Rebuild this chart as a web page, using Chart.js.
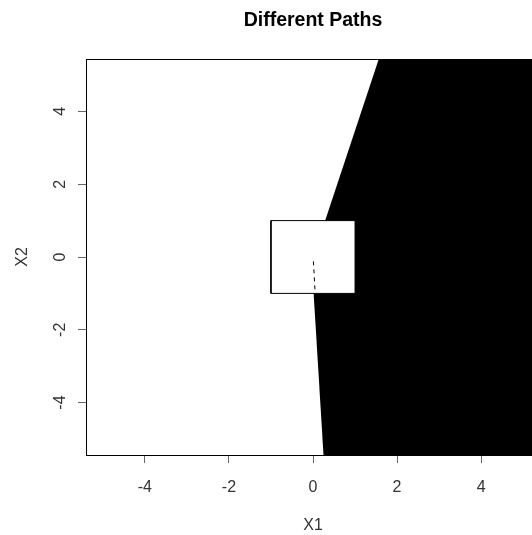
<!DOCTYPE html>
<html>
<head>
<meta charset="utf-8">
<script src="https://cdn.jsdelivr.net/npm/chart.js@4"></script>
<style>
html,body{margin:0;padding:0;overflow:hidden;background:#fff;width:532px;height:535px}
canvas{display:block}
</style>
</head>
<body>
<canvas id="c" width="560" height="535"></canvas>
<script>
// ---- data ----
const chartTitle = 'Different Paths';
const xAxisTitle = 'X1';
const yAxisTitle = 'X2';
const xTicks = [-4, -2, 0, 2, 4];
const yTicks = [-4, -2, 0, 2, 4];
const xLimits = [-5.4, 5.4];
const yLimits = [-5.44, 5.44];
// black region (right of the boundary paths)
const regionX = [1.565, 0.29, 0.015, 0.25, 5.4, 5.4, 1.565];
const regionY = [5.44, 1, -1, -5.44, -5.44, 5.44, 5.44];
// white square
const squareX = [-1, 1, 1, -1, -1];
const squareY = [-1, -1, 1, 1, -1];
// dashed path inside the square
const pathX = [0.01, 0.05];
const pathY = [-0.12, -0.96];

const zip = (xs, ys) => xs.map((x, i) => ({x: x, y: ys[i]}));
const FAMILY = "'Liberation Sans', Arial, sans-serif";
const TXT = '#333';

new Chart(document.getElementById('c'), {
  type: 'line',
  data: {
    datasets: [
      {data: zip(pathX, pathY), borderColor: '#000', borderWidth: 1, borderDash: [4, 4],
       pointRadius: 0, fill: false, tension: 0, order: 0},
      {data: zip(squareX, squareY), borderColor: '#000', borderWidth: 1, backgroundColor: '#fff',
       fill: 'shape', pointRadius: 0, tension: 0, order: 1},
      {data: zip(regionX, regionY), borderColor: 'rgba(0,0,0,0)', borderWidth: 1, backgroundColor: '#000',
       fill: 'shape', pointRadius: 0, tension: 0, order: 2}
    ]
  },
  options: {
    responsive: false,
    animation: false,
    events: [],
    layout: {padding: {left: 0, right: 20, top: 0, bottom: 0}},
    plugins: {
      legend: {display: false},
      tooltip: {enabled: false},
      title: {display: true, text: chartTitle, fullSize: false, color: '#000',
              font: {family: FAMILY, size: 19.5, weight: 'bold'},
              padding: {top: 9, bottom: 26.6}}
    },
    scales: {
      x: {
        type: 'linear', position: 'bottom', min: xLimits[0], max: xLimits[1], bounds: 'data',
        afterBuildTicks: s => { s.ticks = xTicks.map(v => ({value: v})); },
        afterFit: s => { s.height = 80; },
        ticks: {font: {family: FAMILY, size: 16}, color: TXT, padding: 14.5, maxRotation: 0, autoSkip: false},
        grid: {display: true, drawOnChartArea: false, drawTicks: true, tickLength: 8, color: '#666', tickColor: '#666'},
        border: {display: true, color: '#000', width: 1},
        title: {display: true, text: xAxisTitle, color: TXT, font: {family: FAMILY, size: 16}, padding: {top: 0, bottom: 0}}
      },
      xTop: {
        type: 'linear', position: 'top',
        afterFit: s => { s.height = 0; },
        ticks: {display: false},
        grid: {display: true, drawOnChartArea: false, drawTicks: false},
        border: {display: true, color: '#000', width: 1}
      },
      y: {
        type: 'linear', position: 'left', min: yLimits[0], max: yLimits[1], bounds: 'data',
        afterBuildTicks: s => { s.ticks = yTicks.map(v => ({value: v})); },
        afterFit: s => { s.width = 86; },
        ticks: {font: {family: FAMILY, size: 16}, color: TXT, padding: 10.5, minRotation: 90, maxRotation: 90,
                crossAlign: 'center', autoSkip: false},
        grid: {display: true, drawOnChartArea: false, drawTicks: true, tickLength: 8, color: '#666', tickColor: '#666'},
        border: {display: true, color: '#000', width: 1},
        title: {display: true, text: yAxisTitle, color: TXT, font: {family: FAMILY, size: 16}, padding: {top: 12.8, bottom: 0}}
      }
    }
  }
});
</script>
</body>
</html>
